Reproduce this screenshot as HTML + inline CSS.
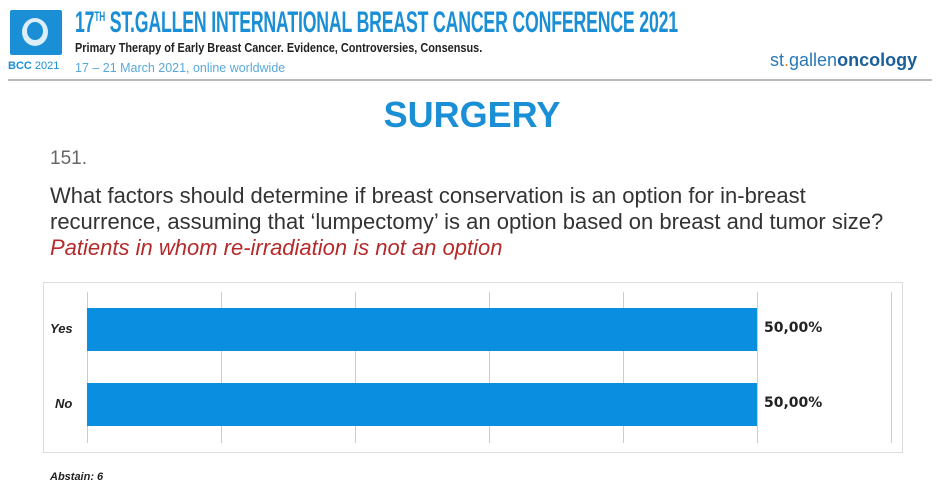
<!DOCTYPE html>
<html><head><meta charset="utf-8"><style>
body{margin:0;width:944px;height:498px;background:#fff;position:relative;overflow:hidden;font-family:"Liberation Sans",sans-serif}
.a{position:absolute;white-space:nowrap}
</style></head><body>
<div class="a" style="left:10px;top:10px;width:52px;height:45px;background:#1a8fd6;border-radius:2px"></div>
<div class="a" style="left:22px;top:18px;width:26px;height:28px;border-radius:50%;background:#fff;opacity:.85"></div>
<div class="a" style="left:27px;top:22px;width:16px;height:18px;border-radius:50%;background:#1a8fd6"></div>
<div class="a" style="left:8px;top:60px;font-size:11px;color:#1a8fd6"><b>BCC</b> 2021</div>
<div class="a" style="left:75px;top:6px;font-size:30px;font-weight:bold;color:#1a8fd6;transform:scaleX(.59);transform-origin:0 0;letter-spacing:-0.3px">17<sup style="font-size:14px">TH</sup> ST.GALLEN INTERNATIONAL BREAST CANCER CONFERENCE 2021</div>
<div class="a" style="left:75px;top:40px;font-size:13px;font-weight:bold;color:#222;transform:scaleX(.84);transform-origin:0 0">Primary Therapy of Early Breast Cancer. Evidence, Controversies, Consensus.</div>
<div class="a" style="left:75px;top:60px;font-size:13px;color:#5aa8d8;transform:scaleX(.96);transform-origin:0 0">17 – 21 March 2021, online worldwide</div>
<div class="a" style="left:770px;top:50px;font-size:18px;color:#2a7ab8">st<span style="color:#e08a2a">.</span>gallen<b style="color:#1a5f99">oncology</b></div>
<div class="a" style="left:8px;top:79px;width:924px;height:2px;background:#bbb"></div>
<div class="a" style="left:0;width:944px;text-align:center;top:94px;font-size:36px;font-weight:bold;color:#1a8fd6">SURGERY</div>
<div class="a" style="left:50px;top:148px;font-size:19px;color:#666">151.</div>
<div class="a" style="left:50px;top:183px;font-size:22px;color:#333;line-height:26px">What factors should determine if breast conservation is an option for in-breast<br>recurrence, assuming that ‘lumpectomy’ is an option based on breast and tumor size?</div>
<div class="a" style="left:50px;top:235px;font-size:22px;color:#b52a2a;font-style:italic">Patients in whom re-irradiation is not an option</div>
<div class="a" style="left:43px;top:282px;width:858px;height:169px;border:1px solid #ddd"></div>
<div class="a" style="left:87px;top:292px;width:1px;height:151px;background:#ccc"></div>
<div class="a" style="left:221px;top:292px;width:1px;height:151px;background:#ccc"></div>
<div class="a" style="left:355px;top:292px;width:1px;height:151px;background:#ccc"></div>
<div class="a" style="left:489px;top:292px;width:1px;height:151px;background:#ccc"></div>
<div class="a" style="left:623px;top:292px;width:1px;height:151px;background:#ccc"></div>
<div class="a" style="left:757px;top:292px;width:1px;height:151px;background:#ccc"></div>
<div class="a" style="left:891px;top:292px;width:1px;height:151px;background:#ccc"></div>
<div class="a" style="left:87px;top:308px;width:670px;height:43px;background:#0a8fe0"></div>
<div class="a" style="left:87px;top:383px;width:670px;height:43px;background:#0a8fe0"></div>
<div class="a" style="left:50px;top:321px;font-size:13px;font-weight:bold;font-style:italic;color:#222">Yes</div>
<div class="a" style="left:55px;top:396px;font-size:13px;font-weight:bold;font-style:italic;color:#222">No</div>
<div class="a" style="left:764px;top:320px;font-family:'DejaVu Sans',sans-serif;font-size:14px;font-weight:bold;color:#222">50,00%</div>
<div class="a" style="left:764px;top:395px;font-family:'DejaVu Sans',sans-serif;font-size:14px;font-weight:bold;color:#222">50,00%</div>
<div class="a" style="left:50px;top:471px;font-size:11px;font-weight:bold;font-style:italic;color:#222">Abstain: 6</div>
</body></html>
